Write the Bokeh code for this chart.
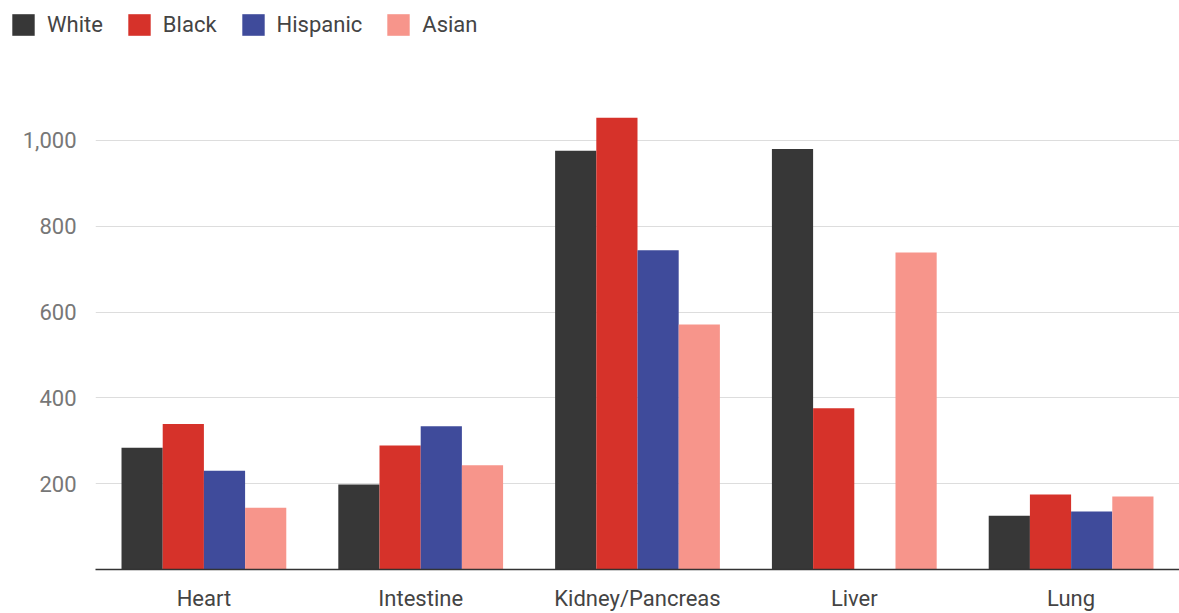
from bokeh.plotting import figure
from bokeh.models import FactorRange, Range1d, ColumnDataSource, Legend, LegendItem, NumeralTickFormatter, FixedTicker
from bokeh.transform import dodge
from bokeh.layouts import column
from bokeh.embed import file_html
from bokeh.resources import INLINE

organs = ["Heart", "Intestine", "Kidney/Pancreas", "Liver", "Lung"]
white = [284, 198, 976, 980, 125]
black = [339, 289, 1053, 376, 175]
hispanic = [230, 334, 744, 0, 135]
asian = [144, 243, 571, 739, 170]
series_names = ["White", "Black", "Hispanic", "Asian"]
colors = ["#373737", "#d6322a", "#3f4b9b", "#f7958b"]
y_ticks = [200, 400, 600, 800, 1000]

source = ColumnDataSource(dict(organ=organs, White=white, Black=black, Hispanic=hispanic, Asian=asian))

# Legend strip on top (its y range keeps the legend proxies out of view)
lg = figure(width=1179, height=50, x_range=FactorRange(*organs), y_range=Range1d(2000, 3000),
            x_axis_type=None, y_axis_type=None, output_backend="svg", toolbar_location=None,
            min_border_left=0, min_border_right=0, min_border_top=0, min_border_bottom=0)
lg.frame_align = False
lg.outline_line_color = None
lg.grid.grid_line_color = None
leg_renderers = []
for name, col in zip(series_names, colors):
    leg_renderers.append(lg.vbar(x="organ", top=name, width=0.1, source=source, fill_color=col, line_color=None))
legend = Legend(items=[LegendItem(label=n, renderers=[r]) for n, r in zip(series_names, leg_renderers)],
                orientation="horizontal", location=(9, 12),
                glyph_width=28, glyph_height=27, label_text_font="Roboto",
                label_text_font_size="22px", label_text_color="#444444",
                label_standoff=10, spacing=22, padding=0, margin=0,
                border_line_color=None, background_fill_alpha=0, label_height=27)
lg.add_layout(legend, "center")

p = figure(width=1179, height=563, x_range=FactorRange(*organs), y_range=Range1d(0, 1100),
           output_backend="svg", toolbar_location=None,
           min_border_left=95, min_border_right=0, min_border_top=47, min_border_bottom=40)
p.frame_align = False
p.outline_line_color = None
p.background_fill_color = "white"
p.border_fill_color = "white"

offsets = [-0.285, -0.095, 0.095, 0.285]
for name, col, off in zip(series_names, colors, offsets):
    p.vbar(x=dodge("organ", off, range=p.x_range), top=name, width=0.19, source=source,
           fill_color=col, line_color=None)

p.xaxis.axis_line_color = "#333333"
p.xaxis.axis_line_width = 1.5
p.xaxis.major_tick_line_color = None
p.xaxis.minor_tick_line_color = None
p.xaxis.major_tick_out = 0
p.xaxis.major_tick_in = 0
p.xaxis.major_label_text_font = "Roboto"
p.xaxis.major_label_text_font_size = "22px"
p.xaxis.major_label_text_color = "#444444"
p.xaxis.major_label_standoff = 16
p.xgrid.grid_line_color = None

p.yaxis.ticker = FixedTicker(ticks=y_ticks)
p.yaxis.formatter = NumeralTickFormatter(format="0,0")
p.yaxis.axis_line_color = None
p.yaxis.major_tick_line_color = None
p.yaxis.minor_tick_line_color = None
p.yaxis.major_tick_out = 0
p.yaxis.major_tick_in = 0
p.yaxis.major_label_text_font = "Roboto"
p.yaxis.major_label_text_font_size = "22px"
p.yaxis.major_label_text_color = "#777777"
p.yaxis.major_label_standoff = 19
p.ygrid.grid_line_color = "#dddddd"
p.ygrid.grid_line_width = 1

open("out.html", "w").write(file_html(column(lg, p, spacing=0), INLINE))
